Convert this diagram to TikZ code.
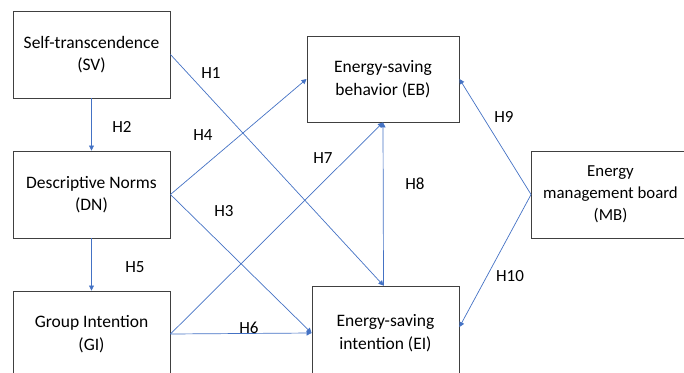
\documentclass[tikz,border=0pt]{standalone}
\usepackage{fontspec}
\setmainfont{Carlito}
\usetikzlibrary{arrows.meta}
\definecolor{linkblue}{HTML}{4472C4}
\definecolor{boxgray}{HTML}{404040}
\tikzset{
  box/.style={draw=boxgray, line width=0.9pt, align=center, inner sep=0pt,
    font=\fontsize{17.5}{22.5}\selectfont},
  link/.style={draw=linkblue, line width=0.7pt, -{Triangle[width=5pt,length=5pt]}},
  hlab/.style={font=\fontsize{17}{20}\selectfont, inner sep=0pt}
}
\begin{document}
\begin{tikzpicture}[x=1pt,y=-1pt]
\useasboundingbox (0,0) rectangle (684,372);
\node[box, minimum width=157pt, minimum height=87pt] (SV) at (91.5,54.5) {Self-transcendence\\(SV)};
\node[box, minimum width=157pt, minimum height=87pt] (DN) at (91.5,194.5) {Descriptive Norms\\(DN)};
\node[box, minimum width=157pt, minimum height=86pt] (GI) at (91.5,334) {Group Intention\\(GI)};
\node[box, minimum width=152pt, minimum height=86pt] (EB) at (383,79) {Energy-saving\\behavior (EB)};
\node[box, minimum width=147pt, minimum height=94pt] (EI) at (385.5,333) {Energy-saving\\intention (EI)};
\node[box, minimum width=158pt, minimum height=87pt, font=\fontsize{16.8}{22}\selectfont] (MB) at (610.5,194.5) {Energy\\management board\\(MB)};

\coordinate (EIn) at ([xshift=-2pt]EI.north);
\coordinate (EIe) at ([yshift=6pt]EI.east);

\draw[link] (SV) -- (DN);
\draw[link] (DN) -- (GI);
\draw[link] (SV.east) -- (EIn);
\draw[link] (DN.east) -- (EB.west);
\draw[link] (DN.east) -- (EI.west);
\draw[link] (GI.east) -- (EI.west);
\draw[link] (GI.east) -- (EB.south);
\draw[link] (EIn) -- (EB.south);
\draw[link] (MB.west) -- (EB.east);
\draw[link] (MB.west) -- (EIe);

\node[hlab] (h1) at (211,73) {H1};
\node[hlab] (h2) at (122,127) {H2};
\node[hlab] (h3) at (224,211) {H3};
\node[hlab] (h4) at (203,135) {H4};
\node[hlab] (h5) at (135,267) {H5};
\node[hlab] (h6) at (249,328) {H6};
\node[hlab] (h7) at (323,158) {H7};
\node[hlab] (h8) at (415,184) {H8};
\node[hlab] (h9) at (504,117) {H9};
\node[hlab] (h10) at (510,276) {H10};
\end{tikzpicture}
\end{document}
